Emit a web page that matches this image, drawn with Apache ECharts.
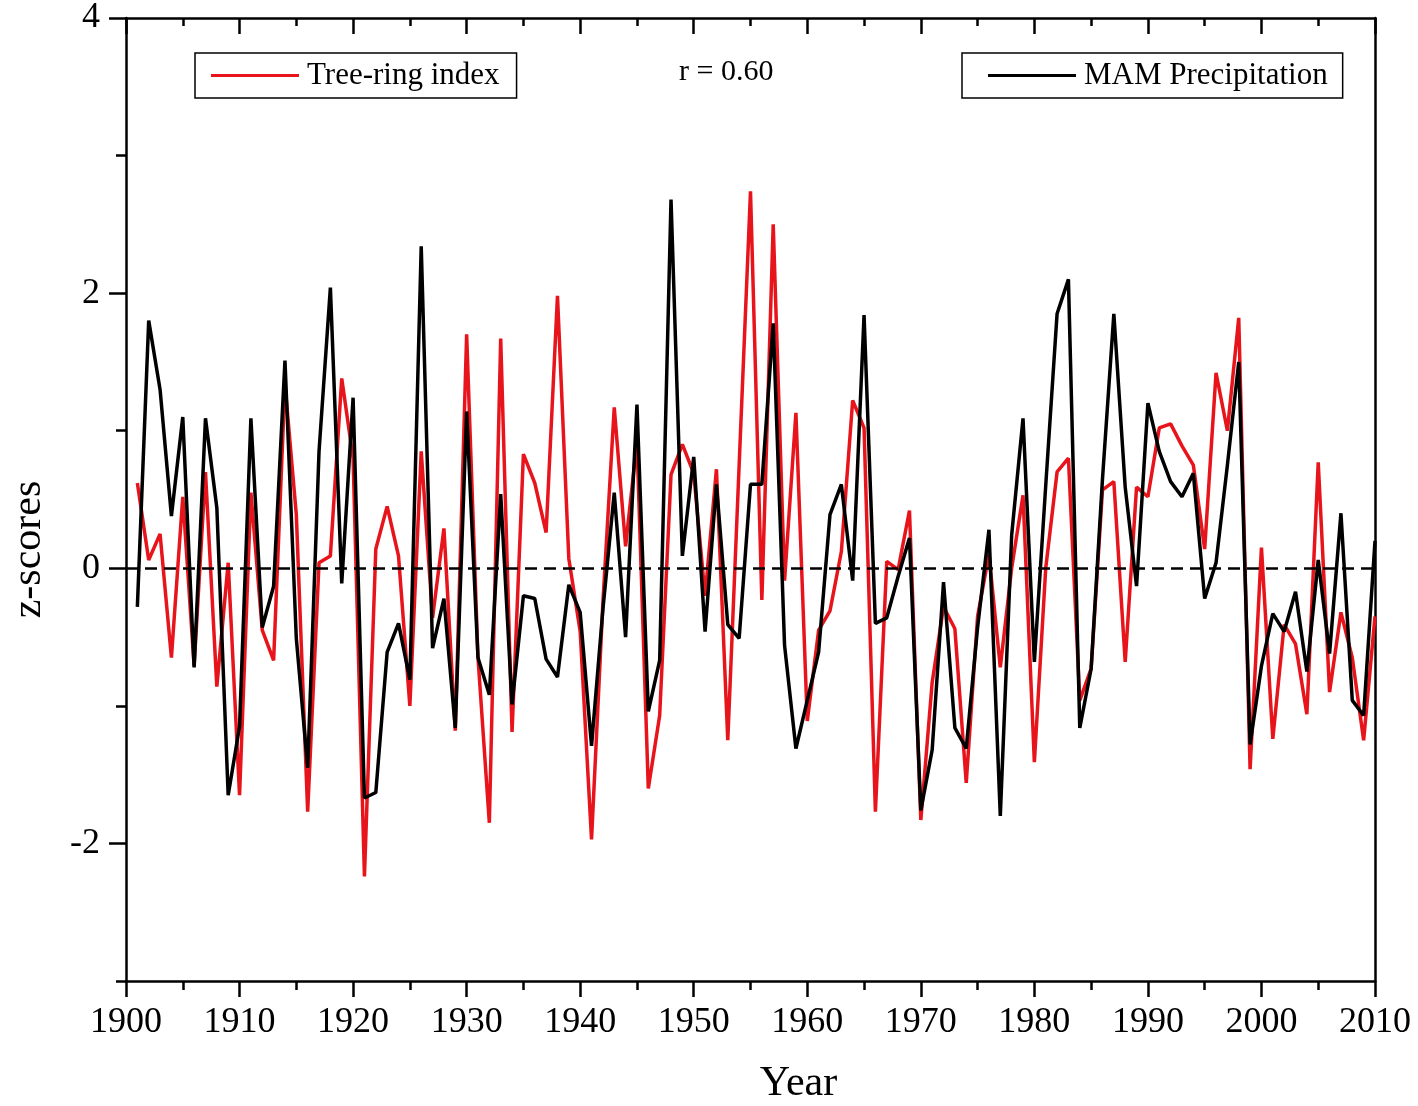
<!DOCTYPE html>
<html>
<head>
<meta charset="utf-8">
<title>Tree-ring index vs MAM Precipitation</title>
<script src="https://cdn.jsdelivr.net/npm/echarts@6/dist/echarts.min.js"></script>
<style>
    html, body { margin: 0; padding: 0; background: #fff; }
    #demo { width: 1418px; height: 1106px; }
</style>
</head>
<body>
<div id="demo"></div>
<script>
/**
 * data
 */
var years = [
    1901, 1902, 1903, 1904, 1905, 1906, 1907, 1908, 1909, 1910,
    1911, 1912, 1913, 1914, 1915, 1916, 1917, 1918, 1919, 1920,
    1921, 1922, 1923, 1924, 1925, 1926, 1927, 1928, 1929, 1930,
    1931, 1932, 1933, 1934, 1935, 1936, 1937, 1938, 1939, 1940,
    1941, 1942, 1943, 1944, 1945, 1946, 1947, 1948, 1949, 1950,
    1951, 1952, 1953, 1954, 1955, 1956, 1957, 1958, 1959, 1960,
    1961, 1962, 1963, 1964, 1965, 1966, 1967, 1968, 1969, 1970,
    1971, 1972, 1973, 1974, 1975, 1976, 1977, 1978, 1979, 1980,
    1981, 1982, 1983, 1984, 1985, 1986, 1987, 1988, 1989, 1990,
    1991, 1992, 1993, 1994, 1995, 1996, 1997, 1998, 1999, 2000,
    2001, 2002, 2003, 2004, 2005, 2006, 2007, 2008, 2009, 2010
];

// Tree-ring index (red)
var treeRing = [
    0.62, 0.06, 0.25, -0.65, 0.52, -0.71, 0.70, -0.86, 0.04, -1.65,
    0.55, -0.45, -0.67, 1.34, 0.39, -1.77, 0.04, 0.09, 1.38, 0.80,
    -2.24, 0.14, 0.45, 0.09, -1.00, 0.85, -0.36, 0.29, -1.18, 1.70,
    -0.65, -1.85, 1.67, -1.19, 0.83, 0.62, 0.26, 1.98, 0.07, -0.46,
    -1.97, -0.25, 1.17, 0.16, 0.92, -1.60, -1.07, 0.68, 0.90, 0.69,
    -0.20, 0.72, -1.25, 0.75, 2.74, -0.23, 2.50, -0.09, 1.13, -1.11,
    -0.45, -0.31, 0.12, 1.22, 1.02, -1.77, 0.05, -0.01, 0.42, -1.83,
    -0.83, -0.28, -0.44, -1.56, -0.35, 0.10, -0.72, 0.00, 0.53, -1.41,
    0.00, 0.70, 0.80, -0.96, -0.73, 0.57, 0.63, -0.68, 0.59, 0.52,
    1.02, 1.05, 0.89, 0.75, 0.14, 1.42, 1.00, 1.82, -1.46, 0.15,
    -1.24, -0.41, -0.55, -1.06, 0.77, -0.90, -0.32, -0.65, -1.25, -0.35
];

// MAM Precipitation (black)
var mamPrecip = [
    -0.28, 1.80, 1.30, 0.38, 1.10, -0.72, 1.09, 0.44, -1.65, -1.15,
    1.09, -0.43, -0.13, 1.51, -0.51, -1.45, 0.85, 2.04, -0.11, 1.24,
    -1.67, -1.63, -0.61, -0.40, -0.81, 2.34, -0.58, -0.22, -1.16, 1.14,
    -0.65, -0.92, 0.54, -0.99, -0.20, -0.22, -0.66, -0.79, -0.12, -0.32,
    -1.29, -0.30, 0.55, -0.50, 1.19, -1.04, -0.67, 2.68, 0.09, 0.81,
    -0.46, 0.61, -0.41, -0.51, 0.61, 0.61, 1.78, -0.56, -1.31, -0.96,
    -0.61, 0.39, 0.61, -0.09, 1.84, -0.40, -0.36, -0.06, 0.22, -1.76,
    -1.32, -0.10, -1.16, -1.31, -0.43, 0.28, -1.80, 0.24, 1.09, -0.68,
    0.60, 1.85, 2.10, -1.16, -0.73, 0.65, 1.85, 0.59, -0.13, 1.20,
    0.85, 0.63, 0.52, 0.69, -0.22, 0.04, 0.75, 1.50, -1.28, -0.71,
    -0.33, -0.46, -0.17, -0.75, 0.06, -0.62, 0.40, -0.96, -1.07, 0.20
];

var yLabelTicks = [-2, 0, 2, 4];      // labelled, long ticks
var yMinorTicks = [-3, -1, 1, 3];     // short ticks, no label
var rText = 'r = 0.60';

/******************************************************* chart ********************************************************/

var FONT = '"Liberation Serif", "Times New Roman", serif';
var RED = '#e8141c';

function pairs(xs, ys) {
    var out = [];
    for (var i = 0; i < xs.length; i++) {
        out.push([xs[i], ys[i]]);
    }
    return out;
}

function legendBox(name, left, padding) {
    return {
        data: [name],
        left: left,
        top: 53,
        orient: 'horizontal',
        selectedMode: false,
        icon: 'rect',
        itemWidth: 88,
        itemHeight: 3,
        padding: padding,
        borderColor: '#000',
        borderWidth: 1.5,
        backgroundColor: '#fff',
        textStyle: { fontFamily: FONT, fontSize: 31, color: '#000', lineHeight: 31, padding: [0, 0, 0, 3] }
    };
}

var axisLine = { show: true, onZero: false, lineStyle: { color: '#000', width: 2.5 } };

var option = {
    backgroundColor: '#fff',
    animation: false,
    title: {
        text: rText,
        left: 679,
        top: 57,
        padding: 0,
        textStyle: { fontFamily: FONT, fontSize: 30, fontWeight: 'normal', color: '#000' }
    },
    legend: [
        legendBox('Tree-ring index', 195, [7, 17, 7, 16]),
        legendBox('MAM Precipitation', 962, [7, 15, 7, 26])
    ],
    grid: { left: 126, right: 43, top: 18, bottom: 125, containLabel: false, outerBoundsMode: 'none' },
    xAxis: [
        {
            type: 'value',
            position: 'bottom',
            min: 1900,
            max: 2010,
            interval: 10,
            axisLine: axisLine,
            axisTick: { show: true, inside: false, length: 16, lineStyle: { color: '#000', width: 2.5 } },
            minorTick: { show: true, splitNumber: 2, length: 9, lineStyle: { color: '#000', width: 2.5 } },
            axisLabel: {
                fontFamily: FONT, fontSize: 36, color: '#000', margin: 24,
                formatter: function (v) { return String(v); }
            },
            splitLine: { show: false },
            name: 'Year',
            nameLocation: 'middle',
            nameGap: 82,
            nameTextStyle: { fontFamily: FONT, fontSize: 42, color: '#000', padding: [0, 0, 0, 96] }
        },
        {
            type: 'value',
            position: 'top',
            min: 1900,
            max: 2010,
            interval: 10,
            axisLine: axisLine,
            axisTick: { show: true, inside: true, length: 16, lineStyle: { color: '#000', width: 2.5 } },
            minorTick: { show: true, splitNumber: 2, length: 8, lineStyle: { color: '#000', width: 2.5 } },
            axisLabel: { show: false },
            splitLine: { show: false }
        }
    ],
    yAxis: [
        {
            type: 'value',
            position: 'left',
            min: -3,
            max: 4,
            interval: 1,
            axisLine: axisLine,
            axisTick: { show: true, inside: false, length: 17, customValues: yLabelTicks,
                lineStyle: { color: '#000', width: 2.5 } },
            axisLabel: { customValues: yLabelTicks, fontFamily: FONT, fontSize: 36, color: '#000', margin: 26 },
            splitLine: { show: false },
            name: 'z-scores',
            nameLocation: 'middle',
            nameRotate: 90,
            nameGap: 76,
            nameTextStyle: { fontFamily: FONT, fontSize: 42, color: '#000', padding: [0, 100, 0, 0] }
        },
        {
            type: 'value',
            position: 'left',
            min: -3,
            max: 4,
            interval: 1,
            axisLine: { show: false },
            axisTick: { show: true, inside: false, length: 10, customValues: yMinorTicks,
                lineStyle: { color: '#000', width: 2.5 } },
            axisLabel: { show: false },
            splitLine: { show: false }
        },
        {
            type: 'value',
            position: 'right',
            min: -3,
            max: 4,
            interval: 1,
            axisLine: axisLine,
            axisTick: { show: false },
            axisLabel: { show: false },
            splitLine: { show: false }
        }
    ],
    series: [
        {
            name: 'Tree-ring index',
            type: 'line',
            symbol: 'none',
            data: pairs(years, treeRing),
            lineStyle: { color: RED, width: 3.5 },
            itemStyle: { color: RED },
            z: 2
        },
        {
            name: 'MAM Precipitation',
            type: 'line',
            symbol: 'none',
            data: pairs(years, mamPrecip),
            lineStyle: { color: '#000', width: 3.5 },
            itemStyle: { color: '#000' },
            z: 3,
            markLine: {
                silent: true,
                symbol: 'none',
                label: { show: false },
                lineStyle: { color: '#000', width: 2.5, type: [12, 7] },
                data: [{ yAxis: 0 }]
            }
        }
    ]
};

var myChart = echarts.init(document.getElementById('demo'));
myChart.setOption(option);
window.onresize = function () {
    myChart.resize();
};
</script>
</body>
</html>
